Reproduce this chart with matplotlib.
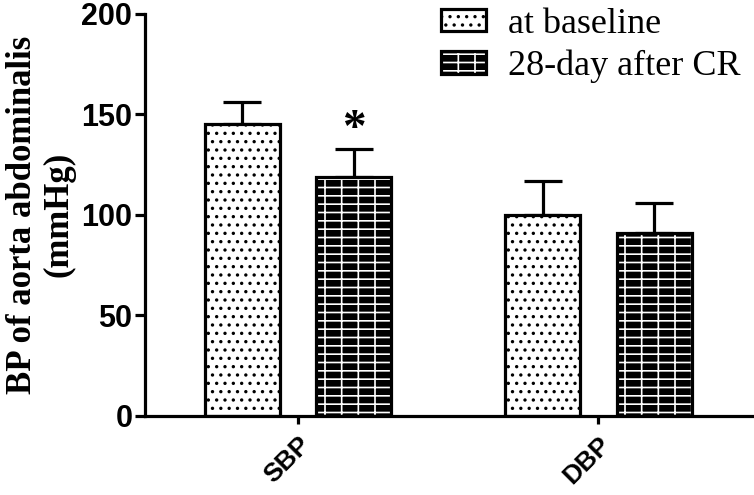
import numpy as np
import matplotlib.pyplot as plt
import matplotlib.patches as mpatches

# data
groups = ["SBP", "DBP"]
series_names = ["at baseline", "28-day after CR"]
baseline_mean = [145, 100]
baseline_err = [11, 17]
after_mean = [119, 91]
after_err = [14, 15]

plt.rcParams['hatch.linewidth'] = 1.2

fig = plt.figure(figsize=(7.54, 4.95), dpi=100)
ax = fig.add_axes([0.192, 0.16, 0.805, 0.812])

x = np.arange(len(groups))
w = 0.25
off = 0.186
lw = 2.3

# baseline: white with dots
ax.bar(x - off, baseline_mean, w, facecolor='white', edgecolor='black',
       hatch='..', linewidth=lw, zorder=2)
ax.errorbar(x - off, baseline_mean, yerr=[[0] * len(x), baseline_err],
            fmt='none', ecolor='black', elinewidth=lw, capsize=14,
            capthick=lw, zorder=1)

# after CR: black with white brick lines, then black border on top
ax.bar(x + off, after_mean, w, facecolor='black', edgecolor='white',
       hatch='--|', linewidth=0, zorder=2)
ax.bar(x + off, after_mean, w, fill=False, edgecolor='black',
       linewidth=lw, zorder=3)
ax.errorbar(x + off, after_mean, yerr=[[0] * len(x), after_err],
            fmt='none', ecolor='black', elinewidth=lw, capsize=14,
            capthick=lw, zorder=1)

# significance mark
ax.text(x[0] + off, after_mean[0] + after_err[0] + 9, "*",
        ha='center', va='center', fontsize=34, fontweight='bold',
        family='Liberation Serif')

ax.set_xlim(-0.51, 1.51)
ax.set_ylim(0, 200)
ax.set_yticks([0, 50, 100, 150, 200])
ax.set_xticks(x)
ax.set_xticklabels(groups, rotation=45, ha='right', rotation_mode='anchor',
                   family='Liberation Sans', fontweight='bold', fontsize=19)
for lab in ax.get_yticklabels():
    lab.set_family('Liberation Sans')
    lab.set_fontweight('bold')
    lab.set_fontsize(22)

for s in ['top', 'right']:
    ax.spines[s].set_visible(False)
for s in ['left', 'bottom']:
    ax.spines[s].set_linewidth(lw)
ax.tick_params(axis='y', length=7, width=lw, pad=2)
ax.tick_params(axis='x', length=6, width=lw, pad=6)

ax.set_ylabel("BP of aorta abdominalis\n(mmHg)", family='Liberation Serif',
              fontweight='bold', fontsize=25, labelpad=4, linespacing=1.15)

# legend
h1 = mpatches.Patch(facecolor='white', edgecolor='black', hatch='..',
                    linewidth=lw)
h2a = mpatches.Patch(facecolor='black', edgecolor='white', hatch='--|',
                     linewidth=0)
h2b = mpatches.Patch(fill=False, edgecolor='black', linewidth=lw)
fig.legend([h1, (h2a, h2b)], series_names, loc='upper left',
           bbox_to_anchor=(0.542, 1.05), frameon=False,
           prop={'family': 'Liberation Serif', 'size': 26},
           handlelength=1.25, handleheight=0.6, handletextpad=0.6,
           labelspacing=0.25)

fig.savefig("out.png", dpi=100)
